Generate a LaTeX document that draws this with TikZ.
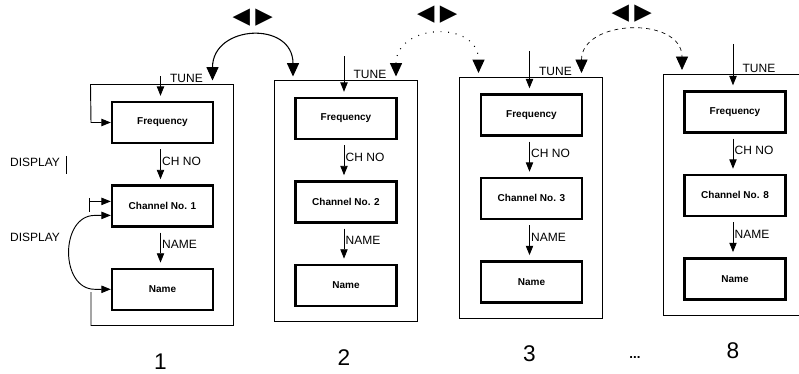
\documentclass[tikz,border=0pt]{standalone}
\usepackage{fontspec}
\setmainfont{Liberation Sans}
\newfontfamily\symfont{DejaVu Sans}
\usetikzlibrary{arrows.meta,positioning,calc}

\tikzset{
  chbox/.style={draw, line width=1.8pt, minimum width=75.75pt, minimum height=30.75pt,
    inner sep=0pt, font=\bfseries\fontsize{7.5}{9}\selectfont},
  frame/.style={line width=0.7pt},
  arr/.style={line width=0.6pt, -{Triangle[width=5.5pt,length=7pt]}},
  dbl/.style={line width=0.7pt, {Triangle[width=5.5pt,length=7pt]}-{Triangle[width=5.5pt,length=7pt]}},
  hop/.style={line width=0.8pt, {Triangle[width=9pt,length=10pt]}-{Triangle[width=9pt,length=10pt]}},
  keylbl/.style={font=\fontsize{9}{10}\selectfont, inner sep=1pt},
  numlbl/.style={font=\fontsize{17}{18}\selectfont, inner sep=0pt},
  lrkey/.style={font=\symfont\fontsize{17}{17}\selectfont, inner sep=0pt},
}

\begin{document}
\begin{tikzpicture}[x=0.75pt, y=-0.75pt, node distance=30pt]
    \useasboundingbox (0,0) rectangle (799,374);

    % One column per channel memory
    \foreach \p/\cx/\fy/\ts in {1/162.5/122.5/8, 2/346/118.5/24, 3/531.5/115/26, 8/735/112/30} {
        \node[chbox] (f\p) at (\cx,\fy) {Frequency};
        \node[chbox, below=of f\p] (c\p) {Channel No. \p};
        \node[chbox, below=of c\p] (n\p) {Name};
        \coordinate (tl\p) at (\cx-72,\fy-38);
        \coordinate (br\p) at (\cx+71,\fy+203);
        \coordinate (lt\p) at (\cx-53,\fy-42);
        \coordinate (rt\p) at (\cx+50,\fy-42);
        \coordinate (tune\p) at (\cx-2,\fy-38-\ts);

        \draw[arr] (tune\p) -- ($(f\p.north)+(-2,-5)$);
        \node[keylbl, anchor=south west] (tn\p) at (\cx+6,\fy-38) {TUNE};
        \draw[arr] ($(f\p.south)+(-2,5)$) -- ($(c\p.north)+(-2,-5)$)
            node[pos=0.4, right, keylbl] (ch\p) {CH NO};
        \draw[arr] ($(c\p.south)+(-2,5)$) -- ($(n\p.north)+(-2,-5)$)
            node[pos=0.4, right, keylbl] (nm\p) {NAME};
        \node[numlbl] (num\p) at (\cx-2,\fy+239) {\p};
    }

    % Frames
    \draw[frame, -{Triangle[width=5.5pt,length=7pt]}] (91,292) |- (br1) |- (tl1)
        -- (91,122.5) -- (f1.west);
    \draw[frame] (tl2) rectangle (br2);
    \draw[frame] (tl3) rectangle (br3);
    \draw[frame] ($(tl8)+(136,0)$) -- (tl8) |- ($(br8)+(-7,0)$);

    % DISPLAY keys
    \node[keylbl] (disp1) at (35,162) {DISPLAY};
    \draw[frame] ($(disp1.east)+(5,-6)$) -- ++(0,18);
    \node[keylbl] (disp2) at (35,237) {DISPLAY};
    \draw[frame] ($(c1.west)+(-21,-8)$) -- ++(0,14);
    \draw[arr] ($(c1.west)+(-21,-4.5)$) -- ($(c1.west)+(0,-4.5)$);
    \draw[dbl] ($(c1.west)+(0,9.5)$) -- ($(c1.west)+(-16,9.5)$)
        .. controls ($(c1.west)+(-51,9.5)$) and ($(n1.west)+(-51,0)$) .. ($(n1.west)+(-16,0)$)
        -- (n1.west);

    % Channel up / down keys
    \draw[hop] (rt1) .. controls ($(rt1)+(0,-56)$) and ($(lt2)+(0,-56)$) .. (lt2);
    \draw[hop, dash pattern=on 0.7pt off 5pt] (rt2) .. controls ($(rt2)+(0,-53)$) and ($(lt3)+(0,-53)$) .. (lt3);
    \draw[hop, dash pattern=on 3pt off 3pt, line width=0.5pt] (rt3) .. controls ($(rt3)+(0,-54)$) and ($(lt8)+(0,-54)$) .. (lt8);
    \node[lrkey] (key12) at ($(rt1)!0.5!(lt2)+(0,-61)$) {◀\hspace{4pt}▶};
    \node[lrkey] (key23) at ($(rt2)!0.5!(lt3)+(0,-60)$) {◀\hspace{4pt}▶};
    \node[lrkey] (key38) at ($(rt3)!0.5!(lt8)+(0,-58)$) {◀\hspace{4pt}▶};

    % Labels
    \node[keylbl, font=\bfseries\fontsize{10}{10}\selectfont] (more) at (635,358) {...};
\end{tikzpicture}
\end{document}
